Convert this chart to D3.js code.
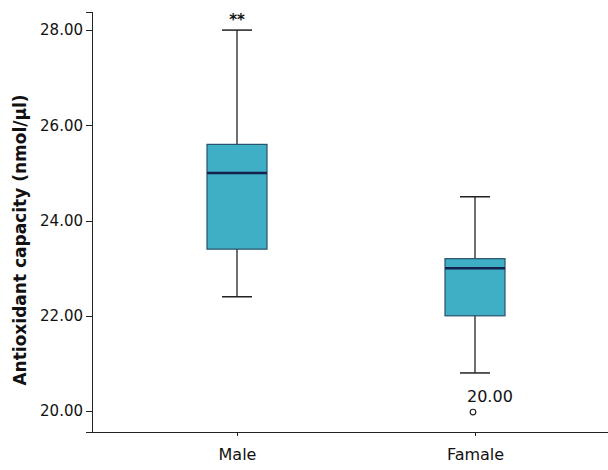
<!DOCTYPE html>
<html lang="en">
<head>
<meta charset="utf-8">
<title>Antioxidant capacity</title>
<script src="https://d3js.org/d3.v7.min.js"></script>
<style>
body { margin: 0; background: white; font-family: "DejaVu Sans", sans-serif; }
.axis path, .axis line { stroke: #222; shape-rendering: crispEdges; }
.axis text { font-family: "DejaVu Sans", sans-serif; font-size: 15px; fill: #111; }
.xaxis text { font-size: 16px; }
</style>
</head>
<body>
<svg id="chart"></svg>
<script>
var groups = ["Male", "Famale"];
var whiskerLow = [22.4, 20.8];
var q1 = [23.4, 22.0];
var median = [25.0, 23.0];
var q3 = [25.6, 23.2];
var whiskerHigh = [28.0, 24.5];
var outliers = [[], [20.0]];
var outlierLabels = [[], ["20.00"]];
var signif = ["**", ""];
var yTicks = [20, 22, 24, 26, 28];

var fullwidth = 608, fullheight = 470;
var margin = {top: 12, right: 0, bottom: 38, left: 92};
var width = fullwidth - margin.left - margin.right;
var height = fullheight - margin.top - margin.bottom;

var svg = d3.select("#chart")
    .attr("width", fullwidth)
    .attr("height", fullheight)
  .append("g")
    .attr("transform", "translate(" + margin.left + "," + margin.top + ")");

var x = d3.scalePoint()
    .domain(groups)
    .range([145, 383]);

var y = d3.scaleLinear()
    .domain([19.56, 28.38])
    .range([height, 0]);

var boxW = 60;

// y axis
svg.append("g")
    .attr("class", "axis")
    .call(d3.axisLeft(y).tickValues(yTicks).tickSize(6).tickPadding(3)
        .tickFormat(d3.format(".2f")));

// x axis
svg.append("g")
    .attr("class", "axis xaxis")
    .attr("transform", "translate(0," + height + ")")
    .call(d3.axisBottom(x).tickSize(4).tickPadding(13))
    .call(function(g) { g.select(".domain").attr("d", "M0.5,0.5H" + width); });

svg.append("text")
    .attr("transform", "rotate(-90)")
    .attr("x", -228)
    .attr("y", -66)
    .attr("text-anchor", "middle")
    .attr("font-size", "17px")
    .attr("font-weight", "bold")
    .attr("fill", "#111")
    .text("Antioxidant capacity (nmol/µl)");

var box = svg.selectAll(".box")
    .data(groups)
    .enter().append("g")
    .attr("class", "box");

// whiskers
box.append("line")
    .attr("x1", function(d) { return x(d); })
    .attr("x2", function(d) { return x(d); })
    .attr("y1", function(d, i) { return y(whiskerHigh[i]); })
    .attr("y2", function(d, i) { return y(whiskerLow[i]); })
    .attr("stroke", "#222").attr("stroke-width", 1.3);

box.selectAll(".cap")
    .data(function(d, i) { return [{g: d, v: whiskerHigh[i]}, {g: d, v: whiskerLow[i]}]; })
    .enter().append("line")
    .attr("x1", function(d) { return x(d.g) - boxW / 4; })
    .attr("x2", function(d) { return x(d.g) + boxW / 4; })
    .attr("y1", function(d) { return y(d.v); })
    .attr("y2", function(d) { return y(d.v); })
    .attr("stroke", "#222").attr("stroke-width", 1.5);

box.append("rect")
    .attr("x", function(d) { return x(d) - boxW / 2; })
    .attr("y", function(d, i) { return y(q3[i]); })
    .attr("width", boxW)
    .attr("height", function(d, i) { return y(q1[i]) - y(q3[i]); })
    .attr("fill", "#3fafc6")
    .attr("stroke", "#28506a")
    .attr("stroke-width", 1.2);

box.append("line")
    .attr("x1", function(d) { return x(d) - boxW / 2; })
    .attr("x2", function(d) { return x(d) + boxW / 2; })
    .attr("y1", function(d, i) { return y(median[i]); })
    .attr("y2", function(d, i) { return y(median[i]); })
    .attr("stroke", "#14214d").attr("stroke-width", 2.5);

box.append("text")
    .attr("x", function(d) { return x(d); })
    .attr("y", function(d, i) { return y(whiskerHigh[i]) - 5; })
    .attr("text-anchor", "middle")
    .attr("font-size", "15px")
    .attr("font-weight", "bold")
    .attr("fill", "#111")
    .text(function(d, i) { return signif[i]; });

box.selectAll(".out")
    .data(function(d, i) { return outliers[i].map(function(v, j) { return {g: d, v: v, label: outlierLabels[i][j]}; }); })
    .enter().append("circle")
    .attr("cx", function(d) { return x(d.g) - 2; })
    .attr("cy", function(d) { return y(d.v) + 1; })
    .attr("r", 2.8)
    .attr("fill", "none")
    .attr("stroke", "#222")
    .attr("stroke-width", 1.2);

box.selectAll(".outlabel")
    .data(function(d, i) { return outliers[i].map(function(v, j) { return {g: d, v: v, label: outlierLabels[i][j]}; }); })
    .enter().append("text")
    .attr("x", function(d) { return x(d.g) - 8; })
    .attr("y", function(d) { return y(d.v) - 9; })
    .attr("font-size", "16px")
    .attr("fill", "#111")
    .text(function(d) { return d.label; });
</script>
</body>
</html>
